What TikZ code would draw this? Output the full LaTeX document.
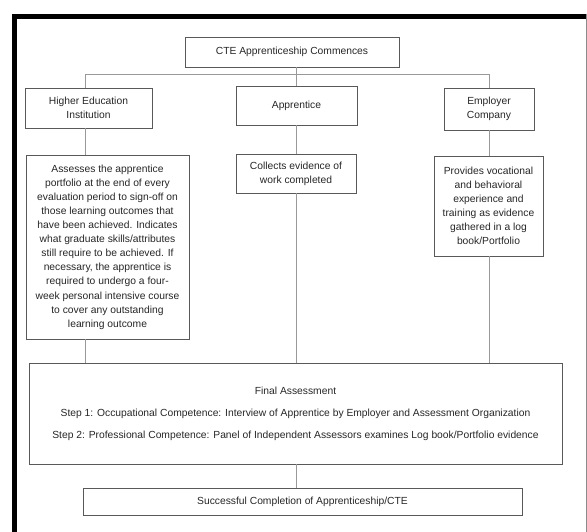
\documentclass[tikz,border=0pt]{standalone}
\usepackage{fontspec}
\setmainfont{Liberation Sans}
\begin{document}
\begin{tikzpicture}[x=1pt, y=1pt,
    font=\fontsize{10.3}{14.1}\selectfont,
    box/.style={draw=black!65, line width=0.9pt, align=center, inner sep=0pt, text=black!85},
    link/.style={draw=black!40, line width=0.8pt}]
  \useasboundingbox (0,0) rectangle (587,-532);
  % frame of the figure
  \draw[line width=5pt] (14.5,-532) -- (14.5,-16.5) -- (587,-16.5);
  \draw[black!45, line width=0.8pt] (586,-14) -- (586,-532);
  % column axes and bus
  \coordinate (colL) at (85,0);
  \coordinate (colC) at (296,0);
  \coordinate (colR) at (489,0);
  \coordinate (bus) at (0,-74);
  % boxes
  \node[box, minimum width=214, minimum height=30] (start) at (292,-52) {CTE Apprenticeship Commences};
  \node[box, minimum width=127, minimum height=40] (hei) at (88.5,-108) {Higher Education\\Institution};
  \node[box, minimum width=121, minimum height=39] (appr) at (296.5,-105.5) {Apprentice};
  \node[box, minimum width=90, minimum height=42] (empl) at (489,-109) {Employer\\Company};
  \node[box, minimum width=163, minimum height=184] (heitext) at (107.5,-247)
    {Assesses the apprentice\\portfolio at the end of every\\evaluation period to sign-off on\\
     those learning outcomes that\\have been achieved. Indicates\\what graduate skills/attributes\\
     still require to be achieved. If\\necessary, the apprentice is\\required to undergo a four-\\
     week personal intensive course\\to cover any outstanding\\learning outcome};
  \node[box, minimum width=120, minimum height=39] (collect) at (296,-173.5)
    {Collects evidence of\\work completed};
  \node[box, minimum width=109, minimum height=100] (provide) at (488.5,-206)
    {Provides vocational\\and behavioral\\experience and\\training as evidence\\gathered in a log\\book/Portfolio};
  \node[box, minimum width=533, minimum height=101, font=\fontsize{10.3}{22}\selectfont] (final) at (295.5,-413.5)
    {Final Assessment\\
     Step 1: Occupational Competence: Interview of Apprentice by Employer and Assessment Organization\\
     Step 2: Professional Competence: Panel of Independent Assessors examines Log book/Portfolio evidence};
  \node[box, minimum width=439, minimum height=27] (done) at (302.5,-501.5)
    {Successful Completion of Apprenticeship/CTE};
  % connectors
  \draw[link] (start.south -| colC) -- (appr.north -| colC);
  \draw[link] (hei.north -| colL) -- (colL |- bus) -- (colR |- bus) -- (empl.north -| colR);
  \foreach \a/\b/\c in {hei/heitext/colL, appr/collect/colC, empl/provide/colR,
                        heitext/final/colL, collect/final/colC, provide/final/colR,
                        final/done/colC}{
    \draw[link] (\a.south -| \c) -- (\b.north -| \c);
  }
\end{tikzpicture}
\end{document}
